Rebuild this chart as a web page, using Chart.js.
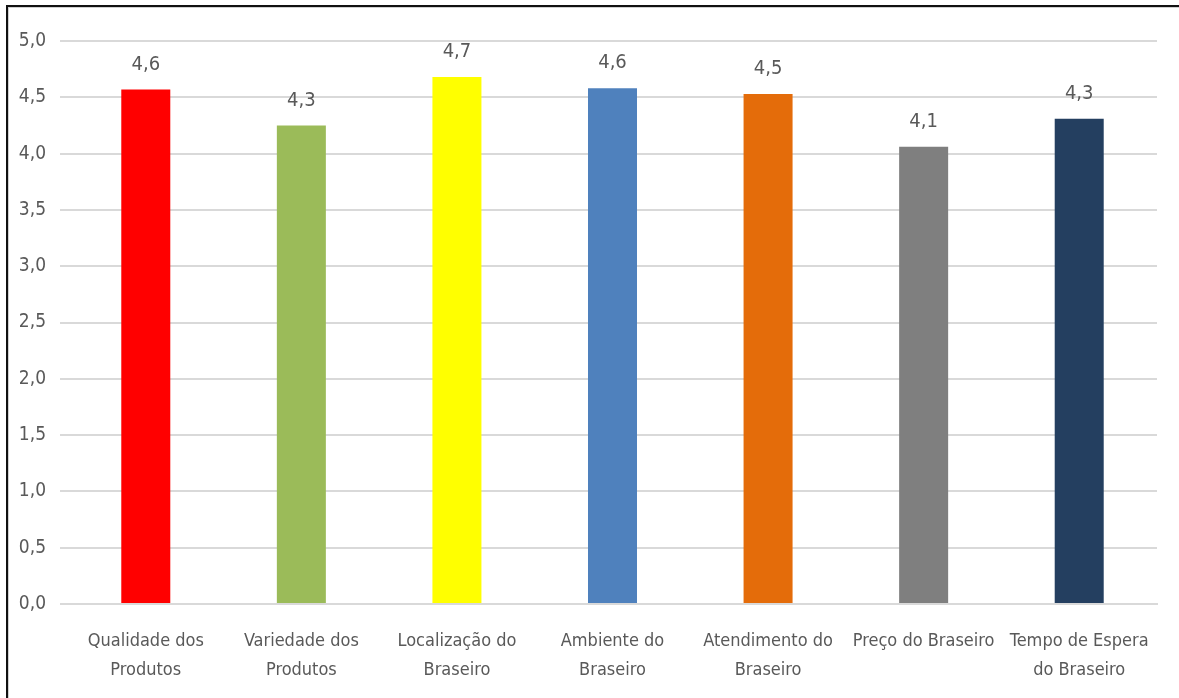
<!DOCTYPE html>
<html>
<head>
<meta charset="utf-8">
<script src="https://cdn.jsdelivr.net/npm/chart.js@4"></script>
<style>
  html, body { margin: 0; padding: 0; background: #fff; overflow: hidden; }
  #frame {
    position: absolute; left: 6px; top: 5px; width: 1173px; height: 693px;
    border-left: 2px solid #111; border-top: 2px solid #111;
    box-shadow: inset 1px 1px 0 #d0d0d0;
  }
  #chart { position: absolute; left: 0; top: 0; }
</style>
</head>
<body>
<div id="frame"></div>
<canvas id="chart" width="1179" height="698"></canvas>
<script>
const categories = [
  ["Qualidade dos", "Produtos"],
  ["Variedade dos", "Produtos"],
  ["Localização do", "Braseiro"],
  ["Ambiente do", "Braseiro"],
  ["Atendimento do", "Braseiro"],
  "Preço do Braseiro",
  ["Tempo de Espera", "do Braseiro"]
];
const scores = [4.57, 4.25, 4.68, 4.58, 4.53, 4.06, 4.31];
const barColors = ["#ff0000", "#9bbb59", "#ffff00", "#4f81bd", "#e46c0a", "#7f7f7f", "#243f60"];
const yTicks = [0, 0.5, 1, 1.5, 2, 2.5, 3, 3.5, 4, 4.5, 5];

const FONT = "'Liberation Sans Narrow', 'DejaVu Sans Condensed', sans-serif";
const TEXT = "#595959";
const comma = v => v.toFixed(1).replace(".", ",");

// value labels above each bar
const barValues = {
  id: "barValues",
  afterDatasetsDraw(chart) {
    const ctx = chart.ctx;
    const meta = chart.getDatasetMeta(0);
    ctx.save();
    ctx.font = "20px " + FONT;
    ctx.fillStyle = TEXT;
    ctx.textAlign = "center";
    ctx.textBaseline = "middle";
    meta.data.forEach((bar, i) => {
      ctx.fillText(comma(scores[i]), bar.x, bar.y - 25);
    });
    ctx.restore();
  }
};

new Chart(document.getElementById("chart"), {
  type: "bar",
  data: {
    labels: categories,
    datasets: [{
      data: scores,
      backgroundColor: barColors,
      borderWidth: 0,
      barPercentage: 0.63,
      categoryPercentage: 0.5
    }]
  },
  options: {
    responsive: false,
    animation: false,
    devicePixelRatio: 1,
    layout: { padding: { top: 41, right: 22, left: 0, bottom: 0 } },
    plugins: { legend: { display: false }, tooltip: { enabled: false } },
    scales: {
      y: {
        min: 0, max: 5,
        afterBuildTicks: s => { s.ticks = yTicks.map(v => ({ value: v })); },
        afterFit: s => { s.width = 68; },
        grid: { color: "#d9d9d9", lineWidth: 2, tickLength: 8 },
        border: { display: false },
        ticks: {
          color: TEXT, padding: 14,
          font: { family: FONT, size: 19 },
          callback: v => comma(v)
        }
      },
      x: {
        afterFit: s => { s.height = 94; },
        grid: { display: false },
        border: { color: "#d9d9d9", width: 2 },
        ticks: {
          color: TEXT, padding: 14, maxRotation: 0, autoSkip: false,
          font: { family: FONT, size: 18, lineHeight: 1.65 }
        }
      }
    }
  },
  plugins: [barValues]
});
</script>
</body>
</html>
